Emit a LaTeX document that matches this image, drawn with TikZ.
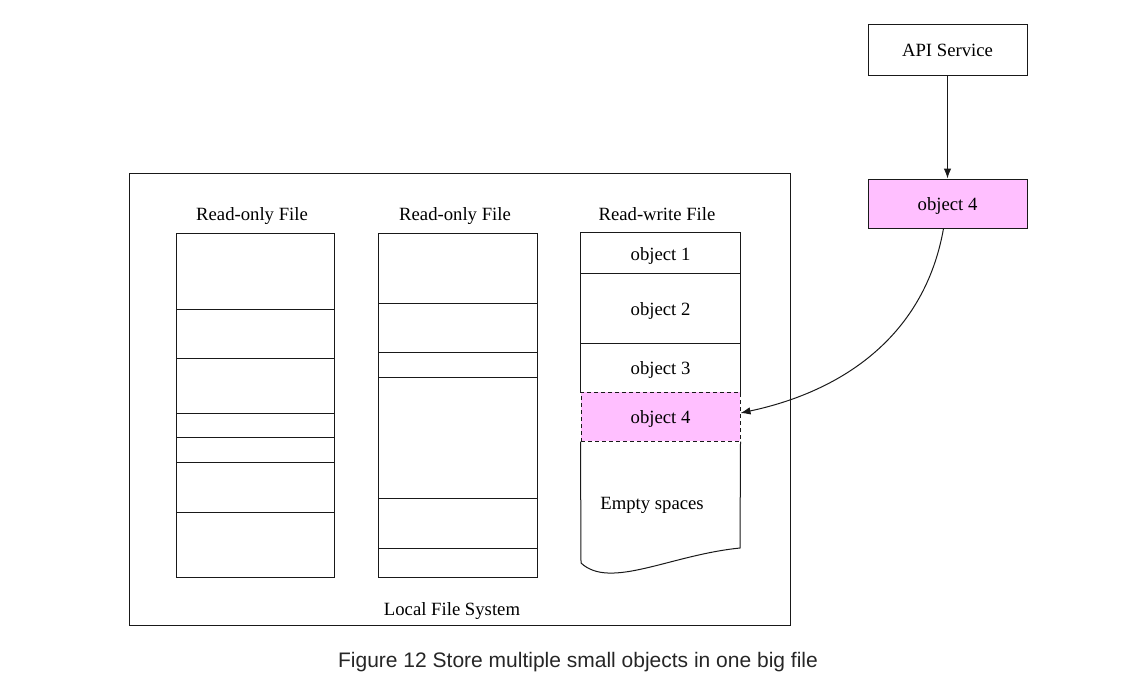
\documentclass[tikz,border=0pt]{standalone}
\usepackage{fontspec}
\setmainfont{Liberation Serif}
\newfontfamily\capfont{Liberation Sans}
\usetikzlibrary{arrows.meta}
\definecolor{objpink}{RGB}{255,191,255}
\tikzset{
  lbl/.style={font=\fontsize{18.7}{22}\selectfont,inner sep=0pt,text height=17.5pt,text depth=3.5pt},
  cell/.style={lbl,minimum width=159pt},
  box/.style={draw,cell},
  tip/.style={-{Latex[length=10pt,width=7.5pt]}}
}
\begin{document}
\begin{tikzpicture}[x=1pt,y=-1pt,line width=1pt,draw=black!90]
\useasboundingbox (0,0) rectangle (1139,689);
\node[box,minimum height=51pt] (api) at (947.5,49.5) {API Service};
\node[box,minimum height=49pt,fill=objpink] (newobj) at (947.5,203.5) {object 4};
\draw[tip] (api) -- (newobj);
\node[draw,minimum width=661pt,minimum height=452pt] (lfs) at (459.5,399) {};
\node[lbl] (lfslbl) at (452,608) {Local File System};
\node[lbl] (ro1) at (252,213) {Read-only File};
\node[lbl] (ro2) at (455,213) {Read-only File};
\node[lbl] (rw) at (657,213) {Read-write File};
\draw (176,233) rectangle (334,577);
\foreach \y in {309,358,413,437,462,512} \draw (176,\y) -- (334,\y);
\draw (378,233) rectangle (537,577);
\foreach \y in {303,352,377,498,548} \draw (378,\y) -- (537,\y);
\node[cell,minimum height=40pt] (obj1) at (660.5,253) {object 1};
\node[cell,minimum height=70pt] (obj2) at (660.5,308) {object 2};
\node[cell,minimum height=49pt] (obj3) at (660.5,367.5) {object 3};
\draw (obj3.south west) -- (obj1.north west) -- (obj1.north east) -- (obj3.south east);
\draw (obj1.south west) -- (obj1.south east);
\draw (obj2.south west) -- (obj2.south east);
\node[box,minimum height=49pt,fill=objpink,dash pattern=on 4pt off 3pt] (obj4) at (660.5,416.5) {object 4};
\node[lbl] (empty) at (652,502) {Empty spaces};
\coordinate (wl) at (581,563);
\coordinate (wr) at (740,548);
\draw (obj4.south west) -- (wl) .. controls (610,590) and (670,555) .. (wr) -- (obj4.south east);
\draw[tip] ([xshift=-4pt]newobj.south) to[out=-100,in=12] ([yshift=3.5pt]obj4.east);
\node[font=\capfont\fontsize{21}{25}\selectfont,text=black!85] (caption) at (578,662) {Figure 12 Store multiple small objects in one big file};
\end{tikzpicture}
\end{document}
